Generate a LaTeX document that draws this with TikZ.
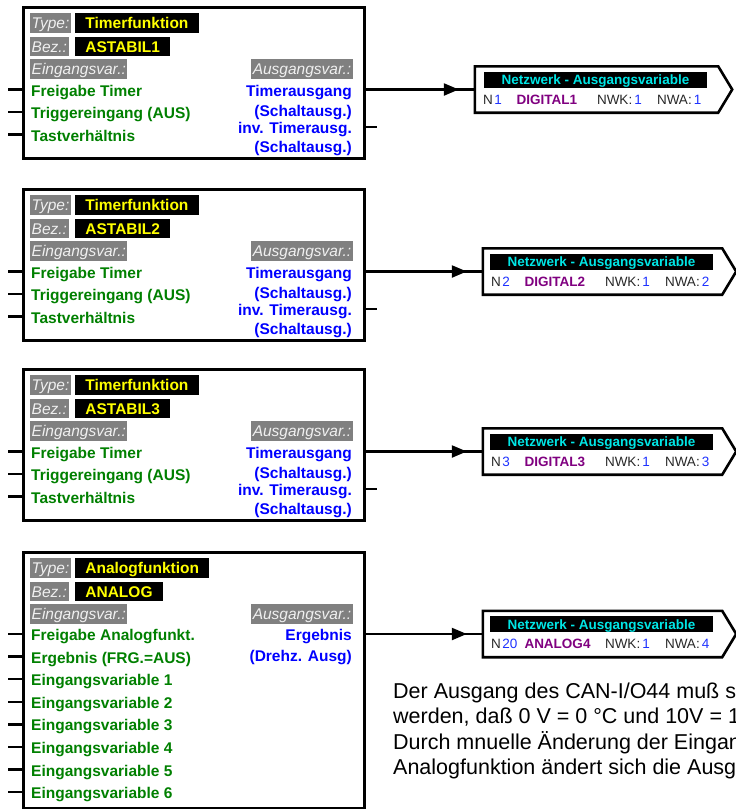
\documentclass[tikz,border=0pt]{standalone}
\usepackage{fontspec}
\setmainfont{Liberation Sans}
\usetikzlibrary{arrows.meta,decorations.markings,calc}

\definecolor{fgreen}{RGB}{0,128,0}
\definecolor{fblue}{RGB}{0,0,255}
\definecolor{fpurple}{RGB}{128,0,128}
\definecolor{fcyan}{RGB}{0,230,230}
\definecolor{fgray}{RGB}{128,128,128}
\definecolor{flight}{RGB}{240,240,240}
\definecolor{fyellow}{RGB}{255,255,0}
\definecolor{fdark}{RGB}{40,40,40}
\definecolor{fnum}{RGB}{30,50,255}

\newcommand{\bfnt}{\fontsize{15.5}{18}\selectfont}
\newcommand{\nfnt}{\fontsize{13.5}{16}\selectfont}

\tikzset{
  blockbox/.style={draw=black, line width=2.6pt, fill=white, anchor=north west, inner sep=0pt},
  graylbl/.style={fill=fgray, text=flight, font=\bfnt\itshape, inner xsep=1.5pt, inner ysep=0pt,
    text height=13.5pt, text depth=2pt, minimum height=19.5pt, anchor=north west},
  blacklbl/.style={fill=black, text=fyellow, font=\bfnt\bfseries, inner xsep=10.2pt, inner ysep=0pt,
    text height=13.5pt, text depth=2pt, minimum height=19.5pt, anchor=north west},
  intext/.style={text=fgreen, font=\bfnt\bfseries, anchor=base west, inner sep=0pt},
  outtext/.style={text=fblue, font=\bfnt\bfseries, anchor=base east, inner sep=0pt},
  stub/.style={line width=2.5pt},
  netbody/.style={minimum height=46pt, inner sep=0pt},
  netoutline/.style={draw=black, line width=2.6pt, fill=white, line join=miter},
  nethead/.style={fill=black, text=fcyan, font=\nfnt\bfseries, minimum width=223pt, minimum height=16pt,
    text height=10pt, text depth=0pt, inner ysep=0pt},
  netrow/.style={font=\nfnt, anchor=base west, inner sep=0pt},
  netline/.style={line width=2.3pt, postaction={decorate},
    decoration={markings, mark=at position -16pt with {\arrow{Triangle[length=15pt,width=12pt]}}}},
  paratext/.style={font=\fontsize{21.5}{25.5}\selectfont, anchor=base west, inner sep=0pt, text=black},
}

\newcommand{\timerblk}[3]{%
  \node[blockbox, minimum width=341pt, minimum height=151pt] (#1) at (22,#2) {};
  \node[graylbl] (#1a) at (30,#2+7) {Type:};
  \node[blacklbl] (#1b) at (75,#2+7) {Timerfunktion};
  \node[graylbl] (#1c) at (30,#2+30.5) {Bez.:};
  \node[blacklbl] (#1d) at (75,#2+30.5) {#3};
  \node[graylbl] (#1e) at (30,#2+53) {Eingangsvar.:};
  \node[graylbl, anchor=north east] (#1f) at (353,#2+53) {Ausgangsvar.:};
  \node[intext] (#1g) at (31,#2+90) {Freigabe Timer};
  \node[intext] (#1h) at (31,#2+112.5) {Triggereingang (AUS)};
  \node[intext] (#1i) at (31,#2+135) {Tastverhältnis};
  \node[outtext] (#1j) at (352,#2+90) {Timerausgang};
  \node[outtext] (#1k) at (352,#2+110) {(Schaltausg.)};
  \node[outtext] (#1l) at (352,#2+127.5) {inv. Timerausg.};
  \node[outtext] (#1m) at (352,#2+146.5) {(Schaltausg.)};
  \foreach \dy [count=\n] in {83.5,106,128.5}{
    \coordinate (#1in\n) at (8,#2+\dy);
    \draw[stub] (#1in\n) -- (#1in\n -| #1.west);
  }
  \coordinate (#1outb) at (377,#2+121);
  \draw[stub] (#1outb -| #1.east) -- (#1outb);
}

\newcommand{\netbox}[7]{%
  \node[netbody, minimum width=#4] (#1) at (#2,#3) {};
  \draw[netoutline] (#1.north west) -- (#1.north east) -- ([xshift=14pt]#1.east)
    -- (#1.south east) -- (#1.south west) -- cycle;
  \node[nethead] (#1h) at (#2-1,#3-10) {Netzwerk - Ausgangsvariable};
  \node[netrow] (#1a) at ($(#1.west)+(8,14.5)$) {{\color{fdark}N}\hspace{1.5pt}{\color{fnum}#5}};
  \node[netrow, text=fpurple, font=\nfnt\bfseries] (#1b) at ($(#1.west)+(41.5,14.5)$) {#6};
  \node[netrow] (#1c) at ($(#1.west)+(122,14.5)$) {{\color{fdark}NWK:}\hspace{2pt}{\color{fnum}1}};
  \node[netrow] (#1d) at ($(#1.west)+(182,14.5)$) {{\color{fdark}NWA:}\hspace{2pt}{\color{fnum}#7}};
}

\begin{document}
\begin{tikzpicture}[x=1pt,y=-1pt]
\fill[white] (0,0) rectangle (736,809);
\useasboundingbox (0,0) rectangle (736,809);

% timer blocks
\timerblk{b1}{6}{ASTABIL1}
\timerblk{b2}{188}{ASTABIL2}
\timerblk{b3}{368}{ASTABIL3}

% analog block
\node[blockbox, minimum width=341pt, minimum height=256pt] (b4) at (22,551) {};
\node[graylbl] (b4a) at (30,558) {Type:};
\node[blacklbl] (b4b) at (75,558) {Analogfunktion};
\node[graylbl] (b4c) at (30,581.5) {Bez.:};
\node[blacklbl] (b4d) at (75,581.5) {ANALOG};
\node[graylbl] (b4e) at (30,604) {Eingangsvar.:};
\node[graylbl, anchor=north east] (b4f) at (353,604) {Ausgangsvar.:};
\foreach \t [count=\n from 0] in {Freigabe Analogfunkt.,Ergebnis (FRG.=AUS),Eingangsvariable 1,Eingangsvariable 2,Eingangsvariable 3,Eingangsvariable 4,Eingangsvariable 5,Eingangsvariable 6}{
  \node[intext] (b4t\n) at (31,640.5+22.6*\n) {\t};
  \coordinate (b4in\n) at (8,634+22.6*\n);
  \draw[stub] (b4in\n) -- (b4in\n -| b4.west);
}
\node[outtext] (b4j) at (352,640.5) {Ergebnis};
\node[outtext] (b4k) at (352,661.5) {(Drehz. Ausg)};

% network output boxes
\netbox{n1}{596.5}{89.5}{243pt}{1}{DIGITAL1}{1}
\netbox{n2}{602.5}{271.5}{239pt}{2}{DIGITAL2}{2}
\netbox{n3}{602.5}{451.5}{239pt}{3}{DIGITAL3}{3}
\netbox{n4}{602.5}{634}{239pt}{20}{ANALOG4}{4}

% connectors
\draw[netline] (b1.east |- n1.west) -- (n1.west);
\draw[netline] (b2.east |- n2.west) -- (n2.west);
\draw[netline] (b3.east |- n3.west) -- (n3.west);
\draw[netline] (b4.east |- n4.west) -- (n4.west);

% paragraph
\node[paratext] (p1) at (393,698) {Der Ausgang des CAN-I/O44 muß s};
\node[paratext] (p2) at (393,723.5) {werden, daß 0 V = 0 °C und 10V = 1};
\node[paratext] (p3) at (393,749) {Durch mnuelle Änderung der Eingan};
\node[paratext] (p4) at (393,774.5) {Analogfunktion ändert sich die Ausg};
\end{tikzpicture}
\end{document}
